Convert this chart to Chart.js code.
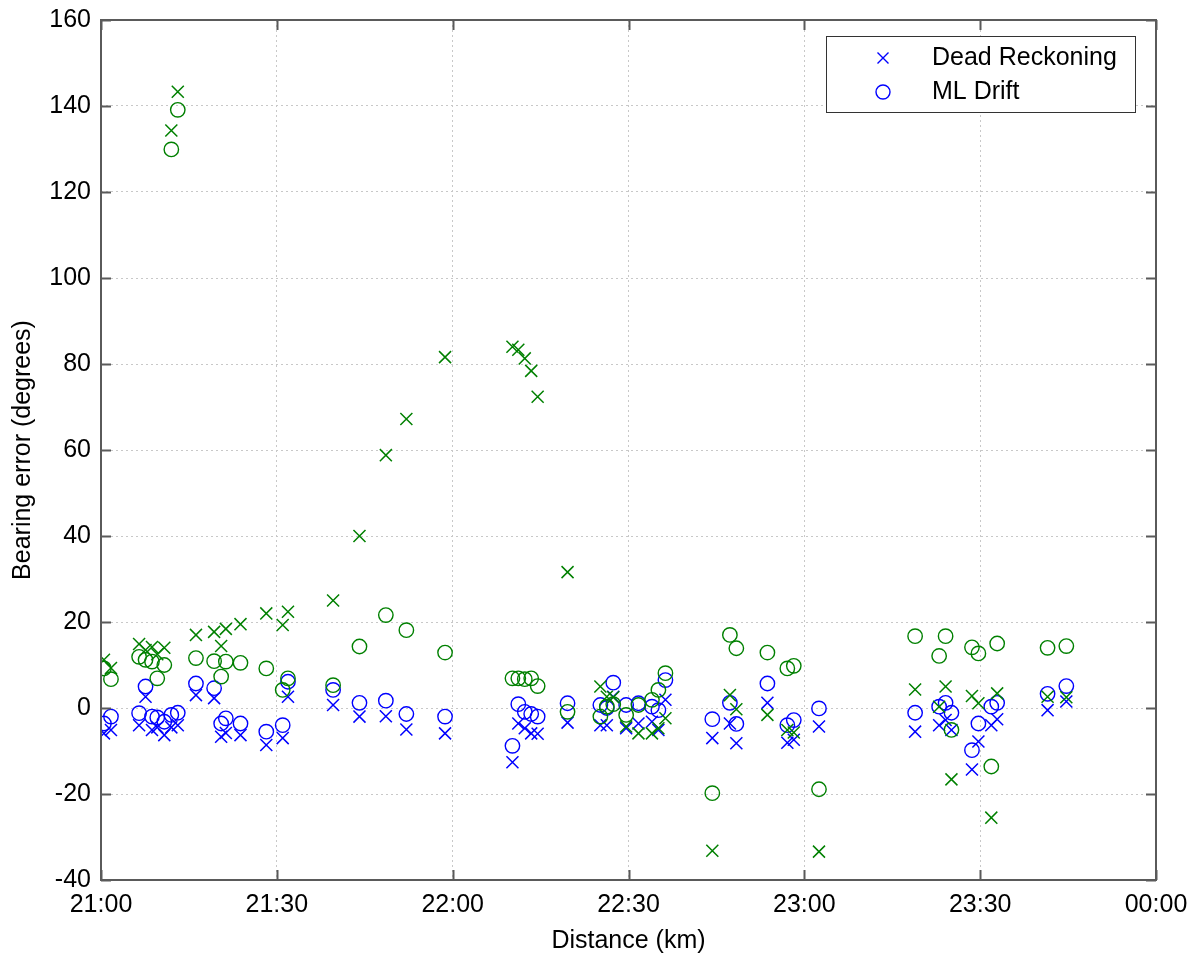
<!DOCTYPE html>
<html><head><meta charset="utf-8">
<script src="https://cdn.jsdelivr.net/npm/chart.js@4/dist/chart.umd.min.js"></script>
<style>html,body{margin:0;padding:0;background:#fff}#wrap{width:1204px;height:956px}</style>
</head><body><div id="wrap"><canvas id="c" width="1204" height="956"></canvas></div>
<script>
// minutes after 21:00
const times = [0.5, 1.7, 6.5, 7.6, 8.7, 9.6, 10.8, 12.0, 13.1, 16.2, 19.3, 20.5, 21.3, 23.8, 28.2, 31.0, 31.9,
  39.6, 44.1, 48.6, 52.1, 58.7, 70.2, 71.2, 72.3, 73.4, 74.5, 79.6, 85.2, 86.3, 87.4, 89.6, 91.7, 94.0, 95.1, 96.3,
  104.3, 107.3, 108.4, 113.7, 117.1, 118.2, 122.5, 138.9, 143.0, 144.1, 145.1, 148.6, 149.7, 151.9, 152.9, 161.5, 164.7];
const deadReckoningBlue = [-5.9, -5.1, -4.0, 2.6, -5.1, -4.5, -6.3, -4.5, -4.0, 3.0, 2.3, -6.7, -5.8, -6.3, -8.6, -7.0, 2.6,
  0.7, -2.0, -1.9, -5.0, -5.9, -12.6, -3.6, -4.7, -5.9, -6.0, -3.4, -4.0, -4.0, 2.6, -4.7, -3.6, -3.2, -5.1, 1.9,
  -7.0, -3.6, -8.2, 1.2, -8.1, -7.4, -4.3, -5.5, -4.0, -2.8, -5.1, -14.3, -7.8, -4.0, -2.6, -0.5, 1.5];
const mlDriftBlue = [-3.6, -2.0, -1.2, 5.0, -2.0, -2.2, -3.2, -1.6, -1.1, 5.7, 4.6, -3.6, -2.4, -3.6, -5.5, -4.0, 6.1,
  4.2, 1.2, 1.7, -1.4, -2.0, -8.8, 0.9, -0.9, -1.4, -2.0, 1.1, 0.7, 0.0, 5.9, 0.7, 1.1, 0.3, -0.5, 6.5,
  -2.6, 1.2, -3.7, 5.7, -4.0, -2.8, -0.1, -1.1, 0.3, 1.2, -1.1, -9.8, -3.6, 0.3, 1.2, 3.3, 5.1];
const deadReckoningGreen = [11.2, 9.3, 14.9, 13.5, 14.2, 12.5, 14.0, 134.3, 143.3, 17.0, 17.7, 14.4, 18.4, 19.5, 22.0, 19.3, 22.4,
  25.0, 40.0, 58.8, 67.2, 81.6, 84.0, 83.3, 81.3, 78.4, 72.4, 31.6, 5.0, 2.6, 2.5, -4.3, -5.9, -5.9, -4.7, -2.4,
  -33.2, 3.0, -0.3, -1.6, -5.1, -5.7, -33.4, 4.3, 0.3, 5.0, -16.6, 2.8, 1.1, -25.5, 3.4, 2.6, 2.5];
const mlDriftGreen = [9.2, 6.7, 11.9, 11.2, 10.8, 6.9, 10.0, 129.9, 139.1, 11.6, 10.9, 7.3, 10.8, 10.5, 9.2, 4.2, 6.9,
  5.3, 14.3, 21.6, 18.1, 12.9, 6.9, 6.9, 6.7, 6.9, 5.1, -0.9, -2.0, 0.3, 0.9, -1.6, 0.7, 1.9, 4.2, 8.1,
  -19.8, 17.0, 13.9, 12.9, 9.2, 9.8, -18.9, 16.7, 12.1, 16.7, -5.1, 14.1, 12.7, -13.6, 15.0, 14.0, 14.4];
const xTickLabels = ['21:00', '21:30', '22:00', '22:30', '23:00', '23:30', '00:00'];
const legendLabels = ['Dead Reckoning', 'ML Drift'];

const BLUE = '#0000ff', GREEN = '#008000';
const FONT = 'Liberation Sans, Arial, sans-serif';
const pts = vals => times.map((t, i) => ({x: t, y: vals[i]}));

const frame = {
  id: 'frame',
  afterDatasetsDraw(chart) {
    const {ctx, chartArea: a, scales: {x, y}} = chart;
    ctx.save();
    ctx.strokeStyle = '#5a5a5a';
    ctx.lineWidth = 2;
    ctx.beginPath();
    x.ticks.forEach(t => {
      const px = Math.round(x.getPixelForValue(t.value)) + 0.5;
      ctx.moveTo(px, a.bottom); ctx.lineTo(px, a.bottom - 10);
      ctx.moveTo(px, a.top); ctx.lineTo(px, a.top + 10);
    });
    y.ticks.forEach(t => {
      const py = Math.round(y.getPixelForValue(t.value)) + 0.5;
      ctx.moveTo(a.left, py); ctx.lineTo(a.left + 10, py);
      ctx.moveTo(a.right, py); ctx.lineTo(a.right - 10, py);
    });
    ctx.stroke();
    ctx.strokeRect(a.left, a.top, a.right - a.left, a.bottom - a.top);
    // legend
    const lx = 826, ly = 36, lw = 309, lh = 76;
    ctx.fillStyle = '#fff';
    ctx.fillRect(lx, ly, lw, lh);
    ctx.strokeStyle = '#333';
    ctx.lineWidth = 1;
    ctx.strokeRect(lx + 0.5, ly + 0.5, lw, lh);
    ctx.strokeStyle = BLUE;
    ctx.lineWidth = 1.4;
    const mx = 883, r1 = 58, r2 = 92;
    ctx.beginPath();
    ctx.moveTo(mx - 5.5, r1 - 5.5); ctx.lineTo(mx + 5.5, r1 + 5.5);
    ctx.moveTo(mx + 5.5, r1 - 5.5); ctx.lineTo(mx - 5.5, r1 + 5.5);
    ctx.stroke();
    ctx.beginPath();
    ctx.arc(mx, r2, 7, 0, Math.PI * 2);
    ctx.stroke();
    ctx.fillStyle = '#000';
    ctx.font = '25px ' + FONT;
    ctx.textBaseline = 'middle';
    ctx.textAlign = 'left';
    ctx.fillText(legendLabels[0], 932, r1);
    ctx.fillText(legendLabels[1], 932, r2);
    ctx.restore();
  }
};

new Chart(document.getElementById('c'), {
  type: 'scatter',
  data: {
    datasets: [
      {label: 'Dead Reckoning (green)', data: pts(deadReckoningGreen), pointStyle: 'crossRot', pointRadius: 8.5, borderColor: GREEN, pointBorderWidth: 1.5},
      {label: 'ML Drift (green)', data: pts(mlDriftGreen), pointStyle: 'circle', pointRadius: 7.2, borderColor: GREEN, backgroundColor: 'rgba(0,0,0,0)', pointBorderWidth: 1.4},
      {label: legendLabels[0], data: pts(deadReckoningBlue), pointStyle: 'crossRot', pointRadius: 8.5, borderColor: BLUE, pointBorderWidth: 1.5},
      {label: legendLabels[1], data: pts(mlDriftBlue), pointStyle: 'circle', pointRadius: 7.2, borderColor: BLUE, backgroundColor: 'rgba(0,0,0,0)', pointBorderWidth: 1.4}
    ]
  },
  options: {
    responsive: false,
    animation: false,
    devicePixelRatio: 1,
    layout: {padding: {top: 20, right: 48, left: 0, bottom: 0}},
    plugins: {legend: {display: false}, tooltip: {enabled: false}},
    scales: {
      x: {
        type: 'linear', min: 0, max: 180,
        afterFit: s => { s.height = 76; s.paddingLeft = 0; s.paddingRight = 0; },
        afterBuildTicks: s => { s.ticks = xTickLabels.map((_, i) => ({value: i * 30})); },
        ticks: {callback: v => xTickLabels[Math.round(v / 30)], color: '#000', font: {family: FONT, size: 25}, padding: 10, maxRotation: 0, autoSkip: false},
        grid: {color: '#c8c8c8', borderDash: [2, 3], drawTicks: false, lineWidth: 1},
        border: {display: false, dash: [2, 3]},
        title: {display: true, text: 'Distance (km)', color: '#000', font: {family: FONT, size: 25}, padding: {top: 0, bottom: 0}}
      },
      y: {
        min: -40, max: 160,
        afterFit: s => { s.width = 101; s.paddingTop = 0; s.paddingBottom = 0; },
        afterBuildTicks: s => { const t = []; for (let v = -40; v <= 160; v += 20) t.push({value: v}); s.ticks = t; },
        ticks: {color: '#000', font: {family: FONT, size: 25}, padding: 10},
        grid: {color: '#c8c8c8', borderDash: [2, 3], drawTicks: false, lineWidth: 1},
        border: {display: false, dash: [2, 3]},
        title: {display: true, text: 'Bearing error (degrees)', color: '#000', font: {family: FONT, size: 25}, padding: {top: 8, bottom: 0}}
      }
    }
  },
  plugins: [frame]
});
</script>
</body></html>
